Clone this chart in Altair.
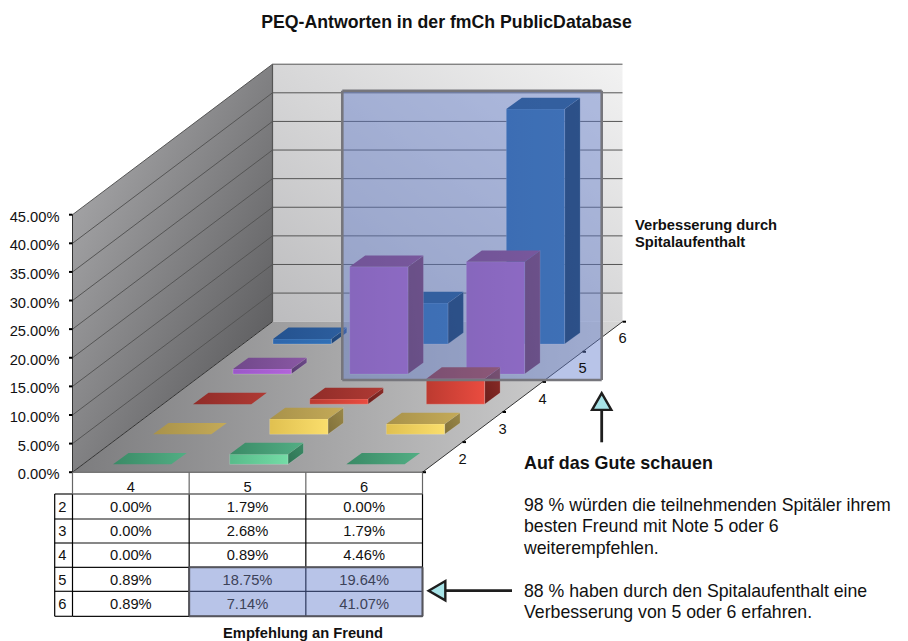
import altair as alt
import pandas as pd

# ---- data ----
columns = ["4", "5", "6"]
rows = ["2", "3", "4", "5", "6"]
val_row2 = [0.00, 1.79, 0.00]
val_row3 = [0.00, 2.68, 1.79]
val_row4 = [0.00, 0.89, 4.46]
val_row5 = [0.89, 18.75, 19.64]
val_row6 = [0.89, 7.14, 41.07]
y_ticks = [0, 5, 10, 15, 20, 25, 30, 35, 40, 45]
title = "PEQ-Antworten in der fmCh PublicDatabase"
series_title = ["Verbesserung durch", "Spitalaufenthalt"]
x_title = "Empfehlung an Freund"
head = "Auf das Gute schauen"
para1 = ["98 % würden die teilnehmenden Spitäler ihrem", "besten Freund mit Note 5 oder 6", "weiterempfehlen."]
para2 = ["88 % haben durch den Spitalaufenthalt eine", "Verbesserung von 5 oder 6 erfahren."]
values = [val_row2, val_row3, val_row4, val_row5, val_row6]

# ---- layout of the oblique projection (page pixels) ----
X0, X1, Y0 = 72.5, 422.5, 472.2
DX, DY = 200.0, 150.5
PX = 257.5 / 45
COLW = (X1 - X0) / 3
ROWX, ROWY = DX / 5, DY / 5
BAR_W, BAR_DX, BAR_DY = 58.3, 15.5, 11.3
BAR_LEFT = 113.0
BAR_FRONT = 0.26
W, H = 892, 633

sx = alt.Scale(domain=[8, 8 + W], range=[0, W], nice=False, zero=False)
sy = alt.Scale(domain=[8, 8 + H], range=[0, H], nice=False, zero=False)
ex = alt.X("x:Q", scale=sx, axis=None)
ey = alt.Y("y:Q", scale=sy, axis=None)
ex2 = alt.X2("x2:Q")
ey2 = alt.Y2("y2:Q")
EDGE = dict(stroke="#ffffff", strokeOpacity=0.22, strokeWidth=0.8)


def grad(a, b, x1=0, y1=0, x2=1, y2=0):
    return alt.LinearGradient(
        gradient="linear",
        stops=[alt.GradientStop(color=a, offset=0), alt.GradientStop(color=b, offset=1)],
        x1=x1, y1=y1, x2=x2, y2=y2,
    )


def vface(pts, fill, **kw):
    d = pd.DataFrame(pts, columns=["x", "y", "y2"])
    return alt.Chart(d).mark_area(color=fill, opacity=1, **kw).encode(x=ex, y=ey, y2=ey2)


def hface(pts, fill, **kw):
    d = pd.DataFrame(pts, columns=["y", "x", "x2"])
    return alt.Chart(d).mark_area(color=fill, orient="horizontal", opacity=1, **kw).encode(y=ey, x=ex, x2=ex2)


def rect(x, x2, y, y2, fill, opacity=1, **kw):
    d = pd.DataFrame([{"x": x, "x2": x2, "y": y, "y2": y2}])
    return alt.Chart(d).mark_rect(color=fill, opacity=opacity, **kw).encode(x=ex, x2=ex2, y=ey, y2=ey2)


def lines(segs, color, width):
    d = pd.DataFrame(segs, columns=["x", "y", "x2", "y2"])
    return alt.Chart(d).mark_rule(color=color, strokeWidth=width).encode(x=ex, y=ey, x2=ex2, y2=ey2)


def texts(items, size, bold=False, align="left", color="#111111"):
    d = pd.DataFrame(items, columns=["x", "y", "t"])
    return alt.Chart(d).mark_text(
        font="Liberation Sans", fontSize=size, fontWeight="bold" if bold else "normal",
        align=align, baseline="middle", color=color,
    ).encode(x=ex, y=ey, text="t:N")


layers = []
top_y = Y0 - 45 * PX

# walls and floor
layers.append(vface([(X0, Y0, top_y), (X0 + DX, Y0 - DY, top_y - DY)],
                    grad("#b4b4b6", "#4e4e50", 0, 0, 1, 1)))
layers.append(rect(X0 + DX, X1 + DX, top_y - DY, Y0 - DY, grad("#bcbcbe", "#f2f2f2", 0, 1, 1, 0)))
layers.append(hface([(Y0 - DY, X0 + DX, X1 + DX), (Y0, X0, X1)], grad("#7c7c7e", "#d6d6d6", 0, 0, 1, 0)))

# grid lines on the walls
grid = []
for t in y_ticks[1:]:
    yy = Y0 - t * PX
    grid.append((X0, yy, X0 + DX, yy - DY))
    grid.append((X0 + DX, yy - DY, X1 + DX, yy - DY))
layers.append(lines(grid, "#555555", 1))
layers.append(lines([(X0, Y0, X0 + DX, Y0 - DY), (X1, Y0, X1 + DX, Y0 - DY)], "#333333", 1))
layers.append(lines([(X0 + DX, top_y - DY, X0 + DX, Y0 - DY)], "#555555", 1.2))
layers.append(lines([(X0, top_y, X0, Y0)], "#333333", 1))
layers.append(lines([(X0, Y0, X1, Y0)], "#777777", 1.5))

# axis ticks
layers.append(lines([(X0 - 3.5, Y0 - t * PX, X0, Y0 - t * PX) for t in y_ticks], "#000000", 2))
layers.append(lines([(X1 + i * ROWX, Y0 - i * ROWY, X1 + i * ROWX + 3.5, Y0 - i * ROWY) for i in range(6)],
                    "#000000", 2))

# colours: front, top, side (start, end)
palette = [
    (("#58bb8a", "#74dca6"), ("#3a8a66", "#52ae84"), ("#2e7454", "#3c8a66")),  # green
    (("#e0c050", "#fade6c"), ("#a8924a", "#c4aa58"), ("#80703a", "#9a8848")),  # yellow
    (("#bc3a30", "#ea4c40"), ("#902c28", "#b03a34"), ("#6c1f1c", "#8c2c28")),  # red
    (("#9a58c8", "#b264da"), ("#70488a", "#8a58a4"), ("#583c70", "#6e4a8a")),  # purple
    (("#2d66ac", "#3170b6"), ("#24528f", "#2d5f9f"), ("#1e4478", "#245088")),  # blue
]
# same series seen through the translucent highlight box
palette_tall = {
    3: (("#a656b0", "#b05abc"), ("#7f346c", "#8b3a76"), ("#6c2a4c", "#762e54")),
    4: (("#1e62a0", "#2266a4"), ("#0c4578", "#0e497c"), ("#002a4e", "#002e52")),
}

# bars, back to front
for r in range(len(rows) - 1, -1, -1):
    yb = Y0 - (r + BAR_FRONT) * ROWY
    for c in range(len(columns)):
        v = values[r][c]
        front, top, side = palette_tall[r] if (r in palette_tall and v > 5) else palette[r]
        xl = BAR_LEFT + c * COLW + r * ROWX
        xr = xl + BAR_W
        yt = yb - v * PX
        if v > 0:
            layers.append(vface([(xr, yb, yt), (xr + BAR_DX, yb - BAR_DY, yt - BAR_DY)],
                                grad(side[0], side[1], 0, 1, 1, 0), **EDGE))
            layers.append(rect(xl, xr, yt, yb, grad(front[0], front[1]), **EDGE))
        layers.append(hface([(yt - BAR_DY, xl + BAR_DX, xr + BAR_DX), (yt, xl, xr)], grad(top[0], top[1])))

# table
TY = [472.2, 494, 519, 543, 567.3, 591.3, 616.3]
CX = [X0 + i * COLW for i in range(4)]
hl = [(CX[0], TY[i], CX[3], TY[i]) for i in range(2, 7)]
hl += [(54.7, TY[i], X0, TY[i]) for i in range(1, 7)]
layers.append(lines(hl, "#111111", 1.2))
vl = [(CX[i], TY[1], CX[i], TY[6]) for i in range(4)] + [(54.7, TY[1], 54.7, TY[6])]
layers.append(lines(vl, "#000000", 1.2))
layers.append(lines([(CX[i], TY[0], CX[i], TY[1]) for i in range(4)], "#666666", 1.2))
layers.append(lines([(CX[0], TY[1], CX[3], TY[1])], "#666666", 1.4))

cells, cells_hl = [], []
for r in range(len(rows)):
    yc = (TY[r + 1] + TY[r + 2]) / 2 + 1.2
    cells.append((62.3, yc, rows[r]))
    for c in range(len(columns)):
        item = ((CX[c] + CX[c + 1]) / 2, yc, f"{values[r][c]:.2f}%")
        (cells_hl if (r >= 3 and c >= 1) else cells).append(item)
for c in range(len(columns)):
    cells.append(((CX[c] + CX[c + 1]) / 2, 487.7, columns[c]))
layers.append(texts(cells, 14.7, align="center"))

# highlight boxes
OV = "#617ccc"
layers.append(rect(342.3, 601.7, 90.7, 380, OV, opacity=0.45))
layers.append(lines([(342.3, 90.7, 601.7, 90.7), (342.3, 380, 601.7, 380),
                     (342.3, 90.7, 342.3, 380), (601.7, 90.7, 601.7, 380)], "#76767c", 2.6))
layers.append(rect(CX[1], CX[3], TY[4], TY[6], OV, opacity=0.45))
layers.append(lines([(CX[1], TY[4], CX[3], TY[4]), (CX[1], TY[6], CX[3], TY[6]),
                     (CX[1], TY[4], CX[1], TY[6]), (CX[3], TY[4], CX[3], TY[6])], "#55555c", 2))
layers.append(texts(cells_hl, 14.7, align="center", color="#3c4258"))

# axis text
layers.append(texts([(59.5, Y0 - t * PX + 3, f"{t:.2f}%") for t in y_ticks], 14.7, align="right"))
layers.append(texts([(X1 + i * ROWX + 40.2, Y0 - i * ROWY - 12.5, rows[i]) for i in range(5)], 14.7, align="center"))
layers.append(texts([(446.5, 23, title)], 17.7, bold=True, align="center"))
layers.append(texts([(635, 226 + 17 * i, s) for i, s in enumerate(series_title)], 14.7, bold=True))
layers.append(texts([(303, 634, x_title)], 14.7, bold=True, align="center"))
layers.append(texts([(524, 464.3, head)], 17.9, bold=True))
ys1 = [506, 527.4, 548.7]
ys2 = [592, 612.7]
layers.append(texts([(524, ys1[i], para1[i]) for i in range(3)], 17.7))
layers.append(texts([(524, ys2[i], para2[i]) for i in range(2)], 17.7))

# arrows
layers.append(lines([(601.7, 410, 601.7, 442.3), (445.7, 590.7, 512, 590.7)], "#1e1e1e", 2.8))
for px, py, shape in [(601.7, 401.5, "triangle-up"), (437, 590.7, "triangle-left")]:
    d = pd.DataFrame([{"x": px, "y": py}])
    layers.append(alt.Chart(d).mark_point(shape=shape, filled=True, fill="#a8e4e8", stroke="#1e1e1e",
                                          strokeWidth=2.4, size=370, opacity=1).encode(x=ex, y=ey))

chart = alt.layer(*layers).properties(
    width=W, height=H, padding=0, autosize=alt.AutoSizeParams(type="none"),
).configure_view(stroke=None)

chart.save("out.html", embed_options={"renderer": "svg", "actions": False})
